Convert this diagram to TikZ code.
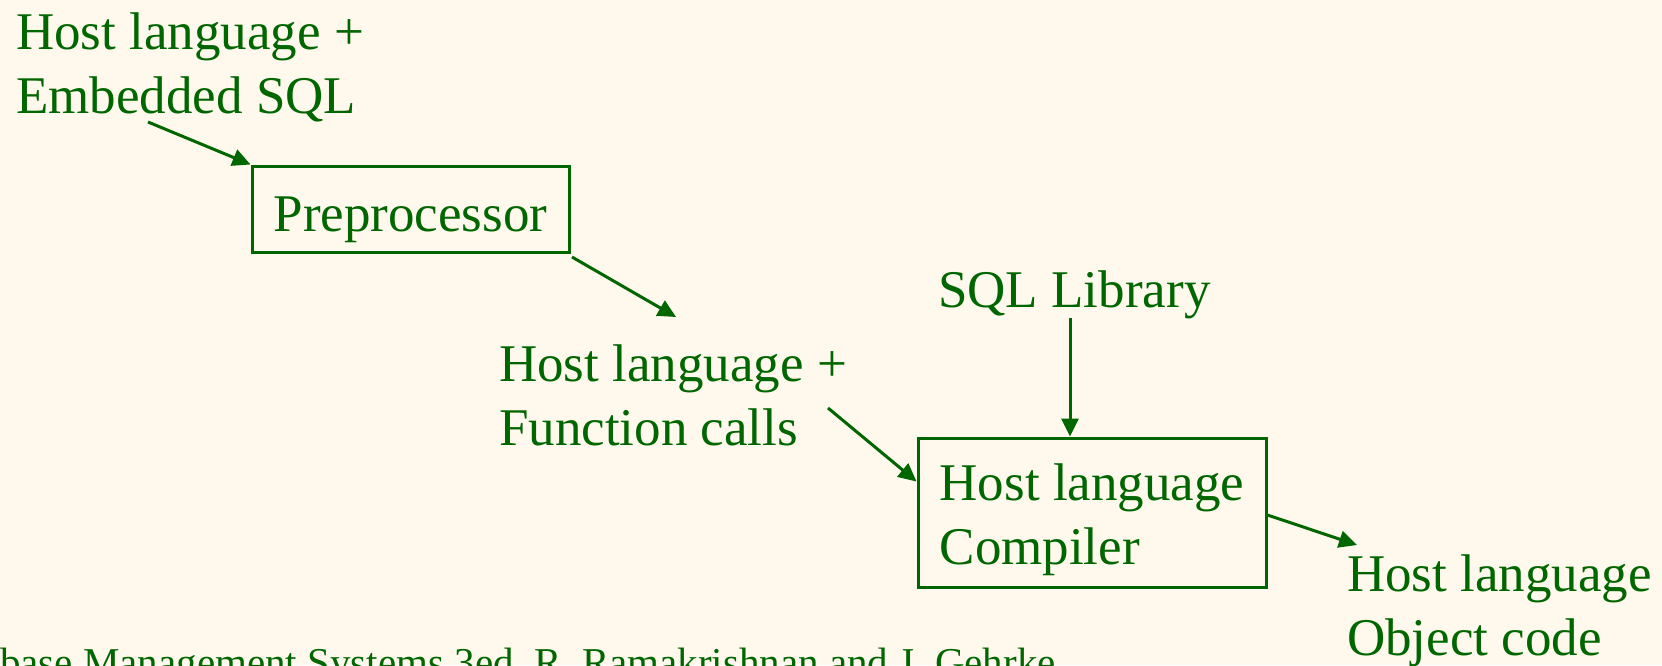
\documentclass[tikz,border=0pt]{standalone}
\usepackage{fontspec}
\setmainfont{Liberation Serif}
\usetikzlibrary{arrows.meta,calc}
\definecolor{bg}{RGB}{255,248,236}
\definecolor{fg}{RGB}{0,102,0}
\begin{document}
\begin{tikzpicture}[x=1pt,y=-1pt,
  txt/.style={text=fg,font=\fontsize{53}{64}\selectfont,inner sep=0pt,align=left},
  lbl/.style={txt,anchor=base west},
  box/.style={txt,draw=fg,line width=3pt},
  arr/.style={draw=fg,line width=3pt,-{Triangle[length=18pt,width=17pt]}},
  foot/.style={text=fg,font=\fontsize{41}{48}\selectfont,inner sep=0pt,anchor=base west}]
\clip (0,0) rectangle (1662,665);
\fill[bg] (0,0) rectangle (1662,665);
\node[lbl] (src) at (16,113) {Host language +\\Embedded SQL};
\node[box,minimum width=317pt,minimum height=86pt,text height=56pt,text depth=11.5pt] (pre) at (410.5,209) {Preprocessor};
\node[lbl] (mid) at (499,445) {Host language +\\Function calls};
\node[lbl] (lib) at (938,307) {SQL Library};
\node[box,minimum width=348pt,minimum height=149pt,text height=115pt,text depth=11.5pt] (comp) at (1092,512.5) {Host language\\Compiler};
\node[lbl] (out) at (1347,655) {Host language\\Object code};
\node[foot] (ft) at (0,676) {base Management Systems 3ed, R. Ramakrishnan and J. Gehrke};
\coordinate (a1s) at (148,122);
\coordinate (a2s) at (572,257);
\coordinate (a2e) at (676,317);
\coordinate (a3s) at (1070,318);
\coordinate (a4s) at (828,408);
\coordinate (a5e) at (1357,545);
\draw[arr] (a1s) -- (pre.north west);
\draw[arr] (a2s) -- (a2e);
\draw[arr] (a3s) -- (a3s |- comp.north);
\draw[arr] (a4s) -- ($(comp.north west)+(0,45)$);
\draw[arr] ($(comp.east)+(0,2.5)$) -- (a5e);
\end{tikzpicture}
\end{document}
